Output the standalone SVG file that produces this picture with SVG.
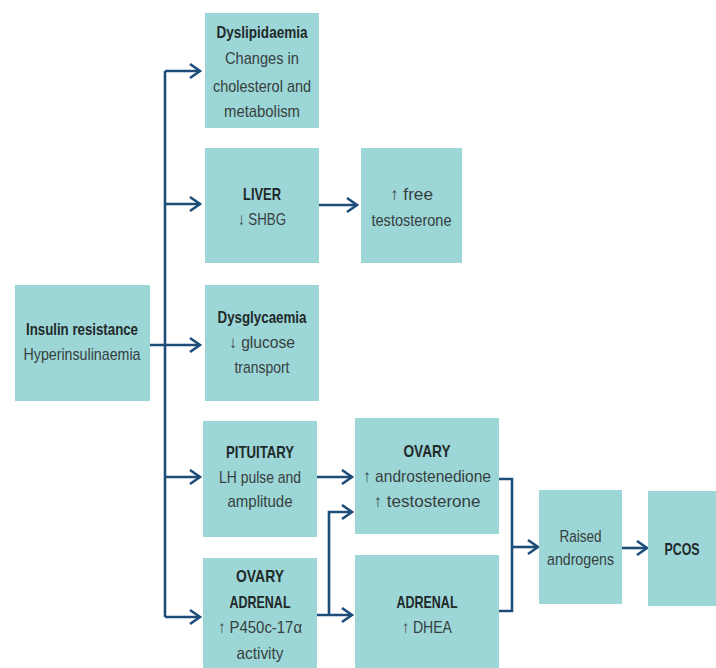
<svg xmlns="http://www.w3.org/2000/svg" width="716" height="668" viewBox="0 0 716 668">
<defs>
<marker id="arr" markerUnits="userSpaceOnUse" markerWidth="16" markerHeight="18" refX="13" refY="9" orient="auto">
<path d="M3,2 L13,9 L3,16" fill="none" stroke="#1d4e79" stroke-width="2.6"/>
</marker>
</defs>
<style>
.box{fill:#9dd6d6}
.t{font-family:"Liberation Sans",Arial,sans-serif;font-size:17px;fill:#36413f;text-anchor:middle}
.b{font-weight:bold;fill:#1f2a2a}
.c{fill:none;stroke:#1d4e79;stroke-width:2.6}
.a{marker-end:url(#arr)}
</style>
<rect width="716" height="668" fill="#ffffff"/>
<g id="connectors">
<path class="c" d="M165,71 V617"/>
<path class="c a" d="M165,71 H200"/>
<path class="c a" d="M165,204 H200"/>
<path class="c a" d="M150,345 H200"/>
<path class="c a" d="M165,477 H200"/>
<path class="c a" d="M165,617 H200"/>
<path class="c a" d="M319,205 H357"/>
<path class="c a" d="M317,477 H352"/>
<path class="c a" d="M317,615 H352"/>
<path class="c a" d="M329,615 V512 H352"/>
<path class="c" d="M499,479 H512 V611 H499"/>
<path class="c a" d="M512,547 H538"/>
<path class="c a" d="M622,548 H647"/>
</g>
<g id="insulin">
<rect class="box" x="15" y="285" width="135" height="116"/>
<text class="t b" x="82" y="335" textLength="112" lengthAdjust="spacingAndGlyphs">Insulin resistance</text>
<text class="t" x="82" y="360" textLength="117" lengthAdjust="spacingAndGlyphs">Hyperinsulinaemia</text>
</g>
<g id="dyslipidaemia">
<rect class="box" x="205" y="13" width="114" height="115"/>
<text class="t b" x="262" y="38" textLength="91" lengthAdjust="spacingAndGlyphs">Dyslipidaemia</text>
<text class="t" x="262" y="64" textLength="74" lengthAdjust="spacingAndGlyphs">Changes in</text>
<text class="t" x="262" y="92" textLength="98" lengthAdjust="spacingAndGlyphs">cholesterol and</text>
<text class="t" x="262" y="117" textLength="76" lengthAdjust="spacingAndGlyphs">metabolism</text>
</g>
<g id="liver">
<rect class="box" x="205" y="148" width="114" height="115"/>
<text class="t b" x="262" y="200" textLength="38" lengthAdjust="spacingAndGlyphs">LIVER</text>
<text class="t" x="262" y="225" textLength="48" lengthAdjust="spacingAndGlyphs">↓ SHBG</text>
</g>
<g id="free-testosterone">
<rect class="box" x="361" y="148" width="101" height="115"/>
<text class="t" x="411.5" y="200" textLength="43" lengthAdjust="spacingAndGlyphs">↑ free</text>
<text class="t" x="411.5" y="226" textLength="80" lengthAdjust="spacingAndGlyphs">testosterone</text>
</g>
<g id="dysglycaemia">
<rect class="box" x="205" y="285" width="114" height="116"/>
<text class="t b" x="262" y="323" textLength="89" lengthAdjust="spacingAndGlyphs">Dysglycaemia</text>
<text class="t" x="262" y="348" textLength="66" lengthAdjust="spacingAndGlyphs">↓ glucose</text>
<text class="t" x="262" y="373" textLength="55" lengthAdjust="spacingAndGlyphs">transport</text>
</g>
<g id="pituitary">
<rect class="box" x="203" y="421" width="114" height="116"/>
<text class="t b" x="260" y="458" textLength="68" lengthAdjust="spacingAndGlyphs">PITUITARY</text>
<text class="t" x="260" y="483" textLength="82" lengthAdjust="spacingAndGlyphs">LH pulse and</text>
<text class="t" x="260" y="507" textLength="65" lengthAdjust="spacingAndGlyphs">amplitude</text>
</g>
<g id="ovary-adrenal">
<rect class="box" x="203" y="558" width="114" height="110"/>
<text class="t b" x="260" y="582" textLength="48" lengthAdjust="spacingAndGlyphs">OVARY</text>
<text class="t b" x="260" y="608" textLength="61" lengthAdjust="spacingAndGlyphs">ADRENAL</text>
<text class="t" x="260" y="633" textLength="84" lengthAdjust="spacingAndGlyphs">↑ P450c-17α</text>
<text class="t" x="260" y="659" textLength="47" lengthAdjust="spacingAndGlyphs">activity</text>
</g>
<g id="ovary">
<rect class="box" x="355" y="418" width="144" height="116"/>
<text class="t b" x="427" y="457" textLength="47" lengthAdjust="spacingAndGlyphs">OVARY</text>
<text class="t" x="427" y="482" textLength="128" lengthAdjust="spacingAndGlyphs">↑ androstenedione</text>
<text class="t" x="427" y="507" textLength="107" lengthAdjust="spacingAndGlyphs">↑ testosterone</text>
</g>
<g id="adrenal">
<rect class="box" x="355" y="555" width="144" height="113"/>
<text class="t b" x="427" y="608" textLength="61" lengthAdjust="spacingAndGlyphs">ADRENAL</text>
<text class="t" x="427" y="633" textLength="50" lengthAdjust="spacingAndGlyphs">↑ DHEA</text>
</g>
<g id="raised-androgens">
<rect class="box" x="539" y="490" width="83" height="114"/>
<text class="t" x="580.5" y="542" textLength="42" lengthAdjust="spacingAndGlyphs">Raised</text>
<text class="t" x="580.5" y="565" textLength="67" lengthAdjust="spacingAndGlyphs">androgens</text>
</g>
<g id="pcos">
<rect class="box" x="648" y="491" width="68" height="115"/>
<text class="t b" x="682" y="555" textLength="35" lengthAdjust="spacingAndGlyphs">PCOS</text>
</g>
</svg>
